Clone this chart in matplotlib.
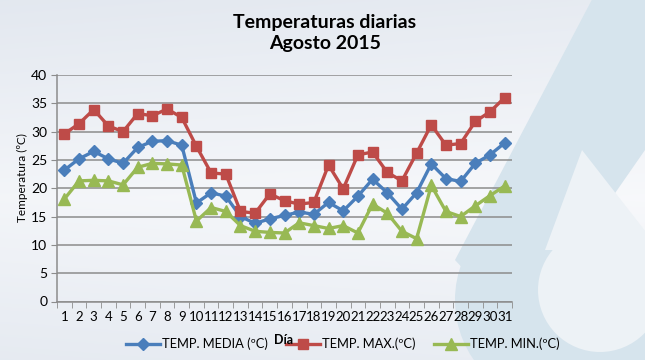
import numpy as np
import matplotlib
matplotlib.use("Agg")
import matplotlib.pyplot as plt
from matplotlib.patches import Polygon, Circle

days = list(range(1, 32))
temp_media = [23.2, 25.2, 26.5, 25.2, 24.4, 27.2, 28.3, 28.4, 27.6, 17.4,
              19.2, 18.6, 15.0, 13.8, 14.6, 15.2, 15.8, 15.4, 17.5, 16.0,
              18.6, 21.6, 19.2, 16.3, 19.2, 24.3, 21.7, 21.2, 24.4, 25.9,
              28.0]
temp_max = [29.6, 31.4, 33.9, 31.0, 30.0, 33.2, 32.8, 34.0, 32.5, 27.4,
            22.7, 22.5, 15.9, 15.6, 19.0, 17.8, 17.2, 17.5, 24.1, 19.9,
            25.9, 26.4, 22.8, 21.3, 26.2, 31.2, 27.6, 27.9, 31.8, 33.5,
            36.0]
temp_min = [18.1, 21.3, 21.4, 21.3, 20.6, 23.7, 24.4, 24.3, 24.1, 14.2,
            16.6, 15.9, 13.4, 12.4, 12.2, 12.1, 13.9, 13.4, 12.9, 13.4,
            12.1, 17.2, 15.6, 12.4, 11.1, 20.5, 15.9, 15.0, 16.9, 18.7,
            20.4]
y_ticks = list(range(0, 41, 5))

BLUE = "#4A7EBB"
RED = "#BE4B48"
GREEN = "#98B954"
GRID = "#8C8C8C"

W, H = 645, 360
plt.rcParams["font.family"] = ["Lato", "DejaVu Sans"]

fig = plt.figure(figsize=(W / 100, H / 100), dpi=100)

# background gradient + watermark drop
bg = fig.add_axes([0, 0, 1, 1], zorder=-10)
yy = np.linspace(0, 1, 200)[:, None]
xx = np.linspace(0, 1, 300)[None, :]
top = np.array([0.89, 0.91, 0.94])
mid = np.array([0.97, 0.975, 0.985])
t = np.clip(np.abs(yy - 0.55) / 0.55, 0, 1) * 0.8 + (1 - xx) * 0.2
img = mid[None, None, :] * (1 - t[..., None]) + top[None, None, :] * t[..., None]
bg.imshow(img, extent=[0, W, H, 0], aspect="auto")
bg.add_patch(Polygon([(597, -10), (645, -10), (645, 150), (520, 330), (455, 260)],
                     closed=True, facecolor="#D6E4ED", edgecolor="none"))
bg.add_patch(Circle((560, 300), 105, facecolor="#D6E4ED", edgecolor="none"))
bg.add_patch(Polygon([(582, 150), (660, 250), (545, 250)],
                     closed=True, facecolor="#EDF2F6", edgecolor="none"))
bg.add_patch(Circle((600, 290), 62, facecolor="#EDF2F6", edgecolor="none"))
bg.set_xlim(0, W)
bg.set_ylim(H, 0)
bg.axis("off")

ax = fig.add_axes([57 / W, 1 - 301.5 / H, 455 / W, 226.5 / H])
ax.patch.set_alpha(0)

ax.plot(days, temp_media, color=BLUE, lw=2.4, marker="D", ms=6.5,
        label="TEMP. MEDIA (ºC)", zorder=3)
ax.plot(days, temp_max, color=RED, lw=2.4, marker="s", ms=7.5,
        label="TEMP. MAX.(ºC)", zorder=3)
ax.plot(days, temp_min, color=GREEN, lw=2.4, marker="^", ms=8,
        label="TEMP. MIN.(ºC)", zorder=3)

ax.set_xlim(0.5, 31.5)
ax.set_ylim(0, 40)
ax.set_yticks(y_ticks)
ax.set_xticks(days)
ax.set_xticklabels([str(d) for d in days], fontsize=9.5)
ax.set_xticks(np.arange(0.5, 32, 1), minor=True)
ax.tick_params(axis="x", which="major", length=0, pad=7)
ax.tick_params(axis="x", which="minor", length=4, color=GRID)
ax.tick_params(axis="y", length=4, color=GRID, labelsize=10, pad=3)
ax.yaxis.grid(True, color=GRID, lw=1.1)
ax.set_axisbelow(True)
for s in ("top", "right"):
    ax.spines[s].set_visible(False)
for s in ("left", "bottom"):
    ax.spines[s].set_color(GRID)
    ax.spines[s].set_linewidth(1.1)

fig.text(325 / W, 1 - 33 / H, "Temperaturas diarias\nAgosto 2015",
         ha="center", va="center", fontsize=14, fontweight="bold",
         linespacing=1.35)
fig.text(22 / W, 1 - 178 / H, "Temperatura (ºC)", rotation=90,
         ha="center", va="center", fontsize=8.5)
fig.text(284 / W, 1 - 340 / H, "Día", ha="center", va="center",
         fontsize=9, fontweight="bold")

ax.legend(loc="center", bbox_to_anchor=(343 / W, 1 - 344 / H),
          bbox_transform=fig.transFigure, ncol=3, frameon=False,
          fontsize=9.3, handlelength=2.6, columnspacing=1.4,
          handletextpad=0.2)

fig.savefig("out.png", dpi=100)
